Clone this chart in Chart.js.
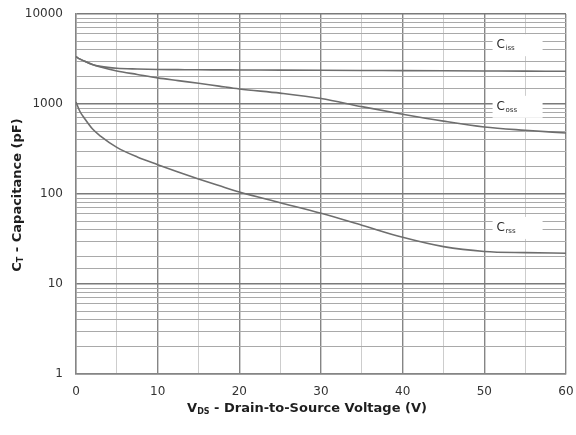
<!DOCTYPE html>
<html>
<head>
<meta charset="utf-8">
<script src="https://cdn.jsdelivr.net/npm/chart.js@4/dist/chart.umd.min.js"></script>
<style>
  html, body { margin: 0; padding: 0; background: #fff; }
  canvas { display: block; }
</style>
</head>
<body>
<canvas id="cap" width="576" height="435"></canvas>
<script>
// Drain-to-source voltage sample points (V)
const vds = [0, 0.5, 1, 2, 3, 5, 7.5, 10, 12.5, 15, 17.5, 20, 25, 30, 35, 40, 45, 50, 55, 60];
// Capacitances (pF)
const ciss = [3350, 3150, 3000, 2750, 2620, 2500, 2450, 2420, 2410, 2400, 2395, 2390, 2380, 2370, 2360, 2350, 2340, 2330, 2320, 2310];
const coss = [3350, 3150, 3000, 2750, 2580, 2330, 2130, 1950, 1820, 1700, 1580, 1470, 1320, 1150, 935, 770, 645, 555, 510, 476];
const crss = [1050, 820, 700, 530, 440, 330, 258, 212, 176, 147, 124, 105, 80, 61, 45, 33, 26, 23, 22.3, 22];
// Curve label positions (V, pF) and subscripts
const curveLabels = [
  { sub: 'iss', v: 51.5, c: 4500 },
  { sub: 'oss', v: 51.5, c: 930 },
  { sub: 'rss', v: 51.5, c: 42 }
];
const yTickValues = [1, 10, 100, 1000, 10000];

const FONT = '"DejaVu Sans", Verdana, sans-serif';
const toPts = arr => vds.map((v, i) => ({ x: v, y: arr[i] }));
const lineStyle = {
  borderColor: '#6e6e6e',
  borderWidth: 1.6,
  pointRadius: 0,
  fill: false,
  cubicInterpolationMode: 'monotone'
};

// Fixed axis box sizes, without the automatic label-overflow padding
function fixBox(size) {
  return s => {
    if (s.isHorizontal()) s.height = size; else s.width = size;
    s.paddingLeft = s.paddingRight = s.paddingTop = s.paddingBottom = 0;
  };
}

function drawParts(ctx, parts, x, y) {
  // parts: [text, isSubscript]; draws centred on x
  const big = 'bold 13px ' + FONT;
  const small = 'bold 8px ' + FONT;
  let w = 0;
  parts.forEach(p => { ctx.font = p[1] ? small : big; w += ctx.measureText(p[0]).width; });
  let cx = x - w / 2;
  parts.forEach(p => {
    ctx.font = p[1] ? small : big;
    ctx.fillText(p[0], cx, p[1] ? y + 3 : y);
    cx += ctx.measureText(p[0]).width;
  });
}

const annotations = {
  id: 'annotations',
  afterDatasetsDraw(chart) {
    const ctx = chart.ctx;
    const xs = chart.scales.x, ys = chart.scales.y;
    ctx.save();
    ctx.textBaseline = 'middle';
    ctx.textAlign = 'left';
    curveLabels.forEach(l => {
      const px = xs.getPixelForValue(l.v);
      const py = ys.getPixelForValue(l.c);
      ctx.fillStyle = '#ffffff';
      ctx.fillRect(px - 4, py - 11, 50, 22);
      ctx.fillStyle = '#2a2a2a';
      ctx.font = '12px ' + FONT;
      ctx.fillText('C', px, py);
      const cw = ctx.measureText('C').width;
      ctx.font = '7px ' + FONT;
      ctx.fillText(l.sub, px + cw + 0.5, py + 3);
    });
    ctx.restore();
  },
  afterDraw(chart) {
    const ctx = chart.ctx;
    ctx.save();
    ctx.fillStyle = '#1e1e1e';
    ctx.textBaseline = 'middle';
    ctx.textAlign = 'left';
    drawParts(ctx, [['V', false], ['DS', true], [' - Drain-to-Source Voltage (V)', false]], 307, 409);
    ctx.translate(18, 195);
    ctx.rotate(-Math.PI / 2);
    drawParts(ctx, [['C', false], ['T', true], [' - Capacitance (pF)', false]], 0, 0);
    ctx.restore();
  }
};

new Chart(document.getElementById('cap'), {
  type: 'line',
  data: {
    datasets: [
      Object.assign({ label: 'Ciss', data: toPts(ciss) }, lineStyle),
      Object.assign({ label: 'Coss', data: toPts(coss) }, lineStyle),
      Object.assign({ label: 'Crss', data: toPts(crss) }, lineStyle)
    ]
  },
  options: {
    responsive: false,
    animation: false,
    layout: { padding: { left: 0, right: 10, top: 14, bottom: 0 } },
    plugins: { legend: { display: false }, tooltip: { enabled: false } },
    scales: {
      x: {
        type: 'linear',
        min: 0,
        max: 60,
        afterFit: fixBox(61),
        ticks: {
          stepSize: 5,
          padding: 11,
          color: '#333',
          font: { size: 12, family: FONT },
          maxRotation: 0,
          callback: v => (v % 10 === 0 ? String(v) : '')
        },
        grid: {
          drawTicks: false,
          color: c => (c.tick && c.tick.value % 10 === 0 ? '#858585' : '#cdcdcd'),
          lineWidth: c => (c.tick && c.tick.value % 10 === 0 ? 1.4 : 1)
        },
        border: { display: true, color: '#858585', width: 1.4 }
      },
      y: {
        type: 'logarithmic',
        min: 1,
        max: 10000,
        afterFit: fixBox(76),
        ticks: {
          padding: 13,
          color: '#333',
          font: { size: 12, family: FONT },
          autoSkip: false,
          callback: v => (yTickValues.includes(v) ? String(v) : '')
        },
        grid: {
          drawTicks: false,
          color: c => (c.tick && yTickValues.includes(c.tick.value) ? '#7a7a7a' : '#a9a9a9'),
          lineWidth: c => (c.tick && yTickValues.includes(c.tick.value) ? 1.4 : 1.1)
        },
        border: { display: true, color: '#858585', width: 1.4 }
      }
    }
  },
  plugins: [annotations]
});
</script>
</body>
</html>
